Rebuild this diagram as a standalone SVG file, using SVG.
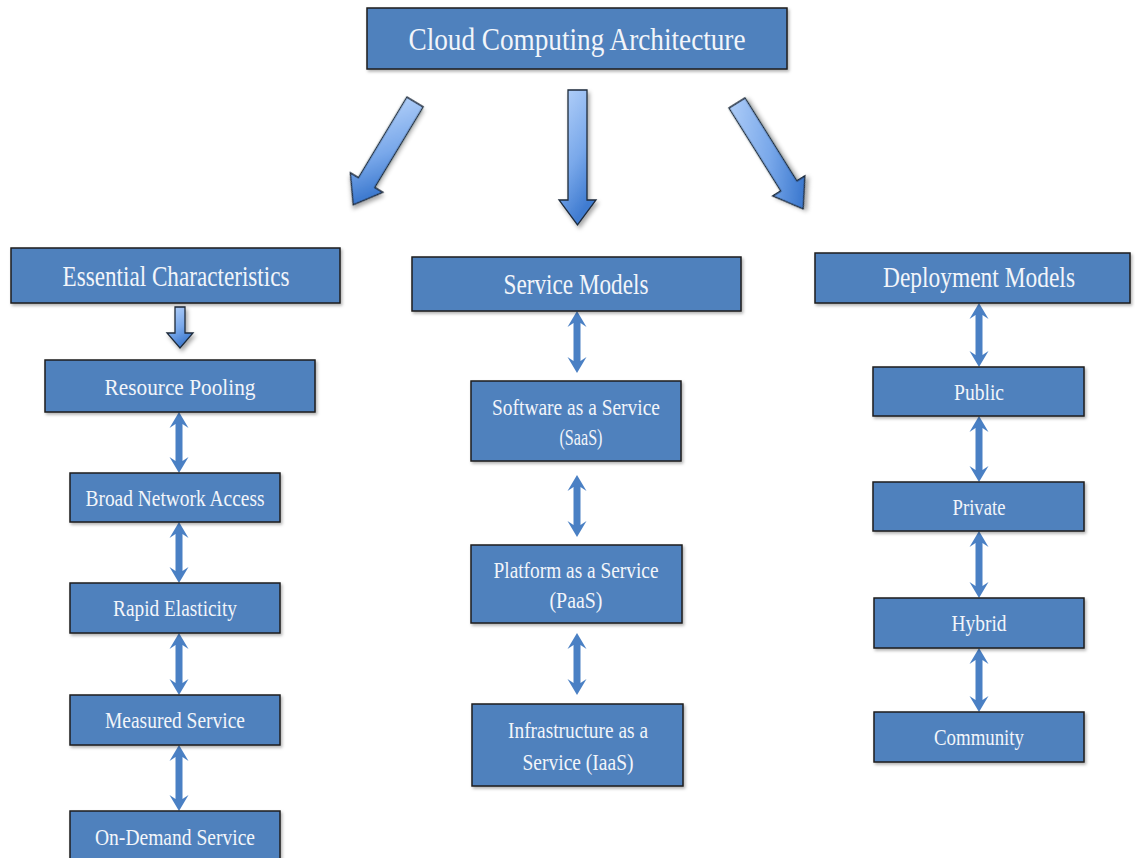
<svg xmlns="http://www.w3.org/2000/svg" width="1135" height="858" viewBox="0 0 1135 858">
<style>
.box{fill:#4f81bd;stroke:#1e1e1e;stroke-width:1.5;filter:url(#sh)}
.t{font-family:"Liberation Serif","Times New Roman",serif;fill:#f2f5fa;text-anchor:middle}
.h{font-size:29px}
.i{font-size:23px}
.da{fill:#4a80c4}
.big{fill:url(#g);stroke:#1e2a3a;stroke-width:1.3;filter:url(#sh2)}
</style>
<defs>
<filter id="sh" x="-10%" y="-20%" width="125%" height="150%">
<feDropShadow dx="1.5" dy="2" stdDeviation="1.5" flood-color="#000" flood-opacity="0.3"/>
</filter>
<filter id="sh2" x="-50%" y="-20%" width="200%" height="150%">
<feDropShadow dx="2" dy="3" stdDeviation="2" flood-color="#000" flood-opacity="0.35"/>
</filter>
<linearGradient id="g" x1="0" y1="0" x2="0.4" y2="1">
<stop offset="0" stop-color="#b7d3fa"/>
<stop offset="0.6" stop-color="#79a8ea"/>
<stop offset="1" stop-color="#3f7bd0"/>
</linearGradient>
<path id="bigArrow" d="M-9.5,0 L9.5,0 L9.5,94 L19,94 L0,120 L-19,94 L-9.5,94 Z"/>
</defs>

<g id="connectors">
<use href="#bigArrow" class="big" transform="translate(415,102) rotate(31)"/>
<path class="big" d="M568,90 L587,90 L587,200 L596,200 L577.5,225 L559,200 L568,200 Z"/>
<use href="#bigArrow" class="big" transform="translate(737,103) rotate(-32) scale(1,1.04)"/>
<path class="big" d="M175,307 L185,307 L185,333 L193,333 L180,348 L167,333 L175,333 Z"/>

<polygon class="da" points="179,412 188.5,428 182.5,424 182.5,461 188.5,457 179,473 169.5,457 175.5,461 175.5,424 169.5,428"/>
<polygon class="da" points="179,522 188.5,538 182.5,534 182.5,571 188.5,567 179,583 169.5,567 175.5,571 175.5,534 169.5,538"/>
<polygon class="da" points="179,633 188.5,649 182.5,645 182.5,683 188.5,679 179,695 169.5,679 175.5,683 175.5,645 169.5,649"/>
<polygon class="da" points="179,745 188.5,761 182.5,757 182.5,799 188.5,795 179,811 169.5,795 175.5,799 175.5,757 169.5,761"/>

<polygon class="da" points="577,311 586.5,327 580.5,323 580.5,361 586.5,357 577,373 567.5,357 573.5,361 573.5,323 567.5,327"/>
<polygon class="da" points="577,475 586.5,491 580.5,487 580.5,525 586.5,521 577,537 567.5,521 573.5,525 573.5,487 567.5,491"/>
<polygon class="da" points="577,633 586.5,649 580.5,645 580.5,683 586.5,679 577,695 567.5,679 573.5,683 573.5,645 567.5,649"/>

<polygon class="da" points="979,303 988.5,319 982.5,315 982.5,355 988.5,351 979,367 969.5,351 975.5,355 975.5,315 969.5,319"/>
<polygon class="da" points="979,416 988.5,432 982.5,428 982.5,470 988.5,466 979,482 969.5,466 975.5,470 975.5,428 969.5,432"/>
<polygon class="da" points="979,531 988.5,547 982.5,543 982.5,586 988.5,582 979,598 969.5,582 975.5,586 975.5,543 969.5,547"/>
<polygon class="da" points="979,648 988.5,664 982.5,660 982.5,700 988.5,696 979,712 969.5,696 975.5,700 975.5,660 969.5,664"/>
</g>

<g id="n-root">
<rect class="box" x="367" y="8" width="420" height="61"/>
<text class="t" x="577" y="50" font-size="32" textLength="337" lengthAdjust="spacingAndGlyphs">Cloud Computing Architecture</text>
</g>

<g id="n-essential">
<rect class="box" x="11" y="248" width="329" height="55"/>
<text class="t h" x="176" y="286" textLength="227" lengthAdjust="spacingAndGlyphs">Essential Characteristics</text>
</g>
<g id="n-service">
<rect class="box" x="412" y="257" width="329" height="54"/>
<text class="t h" x="576" y="294" textLength="145" lengthAdjust="spacingAndGlyphs">Service Models</text>
</g>
<g id="n-deploy">
<rect class="box" x="815" y="253" width="315" height="50"/>
<text class="t h" x="979" y="287" textLength="192" lengthAdjust="spacingAndGlyphs">Deployment Models</text>
</g>

<g id="n-pooling">
<rect class="box" x="45" y="360" width="270" height="52"/>
<text class="t i" x="180" y="395" textLength="151" lengthAdjust="spacingAndGlyphs">Resource Pooling</text>
</g>
<g id="n-broad">
<rect class="box" x="70" y="473" width="210" height="49"/>
<text class="t i" x="175" y="506" textLength="179" lengthAdjust="spacingAndGlyphs">Broad Network Access</text>
</g>
<g id="n-rapid">
<rect class="box" x="70" y="583" width="210" height="50"/>
<text class="t i" x="175" y="616" textLength="124" lengthAdjust="spacingAndGlyphs">Rapid Elasticity</text>
</g>
<g id="n-measured">
<rect class="box" x="70" y="695" width="210" height="50"/>
<text class="t i" x="175" y="728" textLength="140" lengthAdjust="spacingAndGlyphs">Measured Service</text>
</g>
<g id="n-ondemand">
<rect class="box" x="70" y="811" width="210" height="55"/>
<text class="t i" x="175" y="845" textLength="160" lengthAdjust="spacingAndGlyphs">On-Demand Service</text>
</g>

<g id="n-saas">
<rect class="box" x="471" y="381" width="210" height="80"/>
<text class="t i" x="576" y="415" textLength="168" lengthAdjust="spacingAndGlyphs">Software as a Service</text>
<text class="t i" x="581" y="445" textLength="43" lengthAdjust="spacingAndGlyphs">(SaaS)</text>
</g>
<g id="n-paas">
<rect class="box" x="471" y="545" width="211" height="78"/>
<text class="t i" x="576" y="578" textLength="165" lengthAdjust="spacingAndGlyphs">Platform as a Service</text>
<text class="t i" x="576" y="608" textLength="53" lengthAdjust="spacingAndGlyphs">(PaaS)</text>
</g>
<g id="n-iaas">
<rect class="box" x="472" y="704" width="211" height="82"/>
<text class="t i" x="578" y="738" textLength="140" lengthAdjust="spacingAndGlyphs">Infrastructure as a</text>
<text class="t i" x="578" y="770" textLength="111" lengthAdjust="spacingAndGlyphs">Service (IaaS)</text>
</g>

<g id="n-public">
<rect class="box" x="873" y="367" width="211" height="49"/>
<text class="t i" x="979" y="400" textLength="50" lengthAdjust="spacingAndGlyphs">Public</text>
</g>
<g id="n-private">
<rect class="box" x="873" y="482" width="211" height="49"/>
<text class="t i" x="979" y="515" textLength="53" lengthAdjust="spacingAndGlyphs">Private</text>
</g>
<g id="n-hybrid">
<rect class="box" x="874" y="598" width="210" height="50"/>
<text class="t i" x="979" y="631" textLength="55" lengthAdjust="spacingAndGlyphs">Hybrid</text>
</g>
<g id="n-community">
<rect class="box" x="874" y="712" width="210" height="50"/>
<text class="t i" x="979" y="745" textLength="90" lengthAdjust="spacingAndGlyphs">Community</text>
</g>
</svg>
